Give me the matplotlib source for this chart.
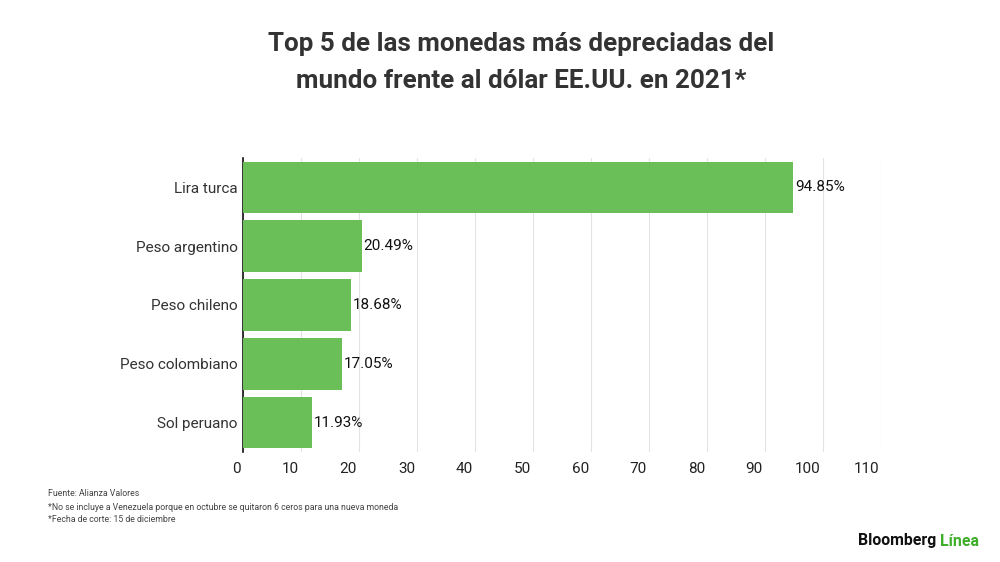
import matplotlib
matplotlib.use("Agg")
import matplotlib.pyplot as plt

categories = ["Lira turca", "Peso argentino", "Peso chileno", "Peso colombiano", "Sol peruano"]
values = [94.85, 20.49, 18.68, 17.05, 11.93]
xticks = [0, 10, 20, 30, 40, 50, 60, 70, 80, 90, 100, 110]

plt.rcParams['font.family'] = ['Roboto', 'DejaVu Sans']

fig = plt.figure(figsize=(10, 5.62), dpi=100)
ax = fig.add_axes([0.243, 1 - 452/562, 0.638, (452-158)/562])

bar_color = '#6abf59'
ys = list(range(len(categories)))
ax.barh(ys, values, height=0.88, color=bar_color, zorder=3)
for y, v in zip(ys, values):
    ax.text(v + 0.3, y, f"{v:.2f}%", va='center', ha='left', fontsize=11, color='#111111', zorder=4)

ax.set_xlim(0, 110)
ax.set_ylim(4.5, -0.5)
ax.set_yticks(ys)
ax.set_yticklabels(categories, fontsize=11, color='#333333')
ax.tick_params(axis='y', length=0, pad=4)
ax.set_xticks(xticks)
ax.set_xticklabels([])
ax.tick_params(axis='x', length=0)
for t in xticks:
    ax.text(t - 0.35, -0.035, str(t), transform=ax.get_xaxis_transform(), ha='right', va='top',
            fontsize=11, color='#222222')
ax.grid(axis='x', color='#e3e3e3', linewidth=0.8, zorder=0)
for s in ['top', 'right', 'bottom']:
    ax.spines[s].set_visible(False)
ax.spines['left'].set_color('#111111')
ax.spines['left'].set_linewidth(1.2)

fig.text(0.521, 1 - 44/562, "Top 5 de las monedas más depreciadas del", ha='center', va='center',
         fontsize=18.7, fontweight='bold', color='#333333')
fig.text(0.521, 1 - 81/562, "mundo frente al dólar EE.UU. en 2021*", ha='center', va='center',
         fontsize=18.7, fontweight='bold', color='#333333')

notes = ["Fuente: Alianza Valores",
         "*No se incluye a Venezuela porque en octubre se quitaron 6 ceros para una nueva moneda",
         "*Fecha de corte: 15 de diciembre"]
for i, n in enumerate(notes):
    fig.text(0.048, 1 - (494 + 13*i)/562, n, ha='left', va='center', fontsize=6.3, color='#444444')

t1 = fig.text(0.858, 1 - 541/562, "Bloomberg", ha='left', va='center', fontsize=11.4,
              fontweight='bold', color='#111111')
fig.canvas.draw()
bb = t1.get_window_extent()
x2 = bb.x1 / fig.bbox.width + 0.004
fig.text(x2, 1 - 541/562, "Línea", ha='left', va='center', fontsize=11.4,
         fontweight='bold', color='#3fae2a')

fig.savefig("out.png", dpi=100, facecolor='white')
